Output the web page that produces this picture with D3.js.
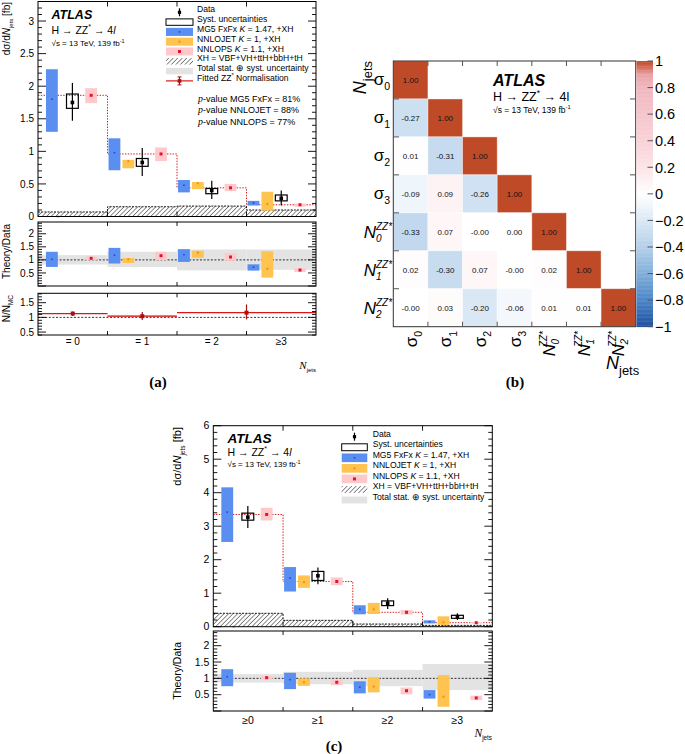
<!DOCTYPE html>
<html><head><meta charset="utf-8">
<script src="https://cdn.jsdelivr.net/npm/d3@7"></script>
<style>body{margin:0;background:#fff} svg{display:block;font-family:"Liberation Sans",Arial,sans-serif}</style>
</head><body><svg id="c" width="685" height="754"></svg>
<script>
// ================= DATA =================
const binsA = ["= 0", "= 1", "= 2", "≥3"];
const binsC = ["≥0", "≥1", "≥2", "≥3"];

// (a) main panel  [value, low, high]
const dataA      = [1.75, 0.83, 0.40, 0.28];
const dataA_err  = [[1.47, 2.05], [0.62, 1.05], [0.27, 0.55], [0.17, 0.40]];
const dataA_syst = [[1.66, 1.88], [0.77, 0.89], [0.35, 0.43], [0.24, 0.33]];
const mg5A       = [[1.80, 1.30, 2.26], [0.98, 0.71, 1.20], [0.48, 0.37, 0.56], [0.21, 0.17, 0.24]];
const nnlojetA   = [[0, 0, 0], [0.85, 0.74, 0.87], [0.51, 0.42, 0.53], [0.19, 0.09, 0.38]];
const nnlopsA    = [[1.86, 1.74, 1.97], [0.96, 0.85, 1.06], [0.44, 0.39, 0.50], [0.18, 0.15, 0.20]];
const xhA        = [0.07, 0.15, 0.16, 0.10];
// (a) Theory/Data
const mg5RA      = [[1.02, 0.73, 1.31], [1.18, 0.86, 1.46], [1.20, 0.92, 1.41], [0.72, 0.59, 0.83]];
const nnlojetRA  = [null, [1.02, 0.88, 1.07], [1.28, 1.08, 1.35], [0.66, 0.32, 1.33]];
const nnlopsRA   = [[1.06, 0.99, 1.13], [1.16, 0.99, 1.31], [1.11, 0.97, 1.26], [0.61, 0.54, 0.68]];
const totalRA    = [[0.82, 1.18], [0.73, 1.31], [0.60, 1.40], [0.62, 1.40]];
// (a) fitted ZZ* normalisation N/N_MC
const nFitBins   = [[0, 1], [1, 2], [2, 4]];
const nFit       = [1.13, 1.04, 1.16];
const nFitBand   = [[1.12, 1.145], [1.02, 1.06], [1.15, 1.17]];
const nFitErr    = [[1.05, 1.20], [0.91, 1.18], [0.93, 1.44]];
const pValues    = [["MG5 FxFx", "81%"], ["NNLOJET", "88%"], ["NNLOPS", "77%"]];

// (c) main panel
const dataC      = [3.27, 1.52, 0.70, 0.30];
const dataC_err  = [[2.95, 3.60], [1.27, 1.77], [0.53, 0.85], [0.20, 0.40]];
const dataC_syst = [[3.18, 3.39], [1.38, 1.65], [0.63, 0.77], [0.25, 0.34]];
const mg5C       = [[3.42, 2.53, 4.16], [1.45, 1.05, 1.78], [0.52, 0.37, 0.64], [0.15, 0.10, 0.19]];
const nnlojetC   = [[0, 0, 0], [1.33, 1.16, 1.53], [0.52, 0.38, 0.71], [0.13, 0.05, 0.31]];
const nnlopsC    = [[3.35, 3.17, 3.55], [1.35, 1.24, 1.47], [0.43, 0.36, 0.50], [0.12, 0.10, 0.14]];
const xhC        = [0.40, 0.19, 0.08, 0.04];
// (c) Theory/Data
const mg5RC      = [[1.05, 0.76, 1.28], [0.96, 0.67, 1.17], [0.73, 0.54, 0.91], [0.50, 0.38, 0.64]];
const nnlojetRC  = [null, [0.88, 0.77, 1.00], [0.75, 0.57, 1.03], [0.44, 0.13, 1.10]];
const nnlopsRC   = [[1.02, 0.97, 1.07], [0.88, 0.79, 0.96], [0.62, 0.51, 0.72], [0.40, 0.33, 0.47]];
const totalRC    = [[0.87, 1.13], [0.82, 1.20], [0.76, 1.26], [0.64, 1.44]];

// (b) correlation matrix (lower triangle, row by row)
const corrLabels = [["σ", "0"], ["σ", "1"], ["σ", "2"], ["σ", "3"], ["N", "0"], ["N", "1"], ["N", "2"]];
const corr = [
  [1.00],
  [-0.27, 1.00],
  [0.01, -0.31, 1.00],
  [-0.09, 0.09, -0.26, 1.00],
  [-0.33, 0.07, -0.001, 0.001, 1.00],
  [0.02, -0.30, 0.07, -0.001, 0.02, 1.00],
  [-0.001, 0.03, -0.20, -0.06, 0.01, 0.01, 1.00]
];
const cbarTicks = [-1, -0.8, -0.6, -0.4, -0.2, 0, 0.2, 0.4, 0.6, 0.8, 1];

// ================= STYLE / LAYOUT =================
const COL = {mg5: "#5a8ef0", mg5dot: "#1a3cf0", jet: "#ffc350", jetdot: "#f39200",
  ops: "#ffc9cc", opsdot: "#e8112d", gray: "#e3e3e3", red: "#d81818", dred: "#a81010"};
const OFF = {mg5: [0.2, 0.1, 0.1, 0.1], jet: [0.29, 0.3, 0.3, 0.3], data: [0.495, 0.5, 0.5, 0.5], ops: [0.765, 0.77, 0.77, 0.77]};
const BW = 0.17;
const cmapStops = [-1, -0.8, -0.6, -0.4, -0.2, 0, 0.2, 0.4, 0.6, 0.8, 0.9, 0.95, 1];
const cmapCols = ["#1f4f9e", "#4a85c6", "#80afdb", "#b5d0ea", "#dae8f5", "#ffffff", "#fbe4e7",
  "#f8d3d8", "#f5c5cc", "#f2b7bf", "#eba3a8", "#d8705f", "#bf4a28"];

const svg = d3.select("#c");
svg.append("rect").attr("width", 685).attr("height", 754).attr("fill", "#fff");
const defs = svg.append("defs");
const pat = defs.append("pattern").attr("id", "hatch").attr("patternUnits", "userSpaceOnUse")
  .attr("width", 3.2).attr("height", 3.2).attr("patternTransform", "rotate(45)");
pat.append("line").attr("x1", 0).attr("y1", 0).attr("x2", 0).attr("y2", 3.2)
  .attr("stroke", "#000").attr("stroke-width", 0.9);

// ---------- helpers ----------
function rich(sel, x, y, parts, size, anchor) {
  const t = sel.append("text").attr("x", x).attr("y", y).attr("font-size", size)
    .attr("text-anchor", anchor || "start").attr("fill", "#000");
  let cur = 0;
  parts.forEach(p => {
    if (typeof p === "string") p = {t: p};
    const shift = p.sup ? -0.42 * size : p.sub ? 0.32 * size : 0;
    const ts = t.append("tspan").text(p.t).attr("dy", shift - cur);
    cur = shift;
    if (p.sup || p.sub) ts.attr("font-size", (p.s || 0.68) * size);
    else if (p.s) ts.attr("font-size", p.s * size);
    if (p.i) ts.attr("font-style", "italic");
    if (p.f) ts.attr("font-family", p.f);
    if (p.w) ts.attr("font-weight", p.w);
  });
  return t;
}
function rotText(sel, x, y, parts, size, anchor) {
  const g = sel.append("g").attr("transform", `translate(${x},${y}) rotate(-90)`);
  return rich(g, 0, 0, parts, size, anchor);
}
function frame(g, x, y) {
  g.append("rect").attr("x", x.range()[0]).attr("y", y.range()[1])
    .attr("width", x.range()[1] - x.range()[0]).attr("height", y.range()[0] - y.range()[1])
    .attr("fill", "none").attr("stroke", "#000").attr("stroke-width", 1);
}
function yTicks(g, y, x, major, minor, fs, skipMin) {
  const [d0, d1] = y.domain();
  const [x0, x1] = x.range();
  for (let k = Math.ceil(d0 / minor - 1e-6); k * minor <= d1 + 1e-6; k++) {
    const v = +(k * minor).toFixed(6);
    const isMaj = Math.abs(v / major - Math.round(v / major)) < 1e-6;
    const L = isMaj ? 8 : 4, yy = y(v);
    g.append("line").attr("x1", x0).attr("x2", x0 + L).attr("y1", yy).attr("y2", yy).attr("stroke", "#000").attr("stroke-width", 0.9);
    g.append("line").attr("x1", x1).attr("x2", x1 - L).attr("y1", yy).attr("y2", yy).attr("stroke", "#000").attr("stroke-width", 0.9);
    if (isMaj && !(skipMin && Math.abs(v - d0) < 1e-6))
      g.append("text").attr("x", x0 - 4).attr("y", yy).attr("dy", "0.36em").attr("text-anchor", "end")
        .attr("font-size", fs).text(d3.format("~g")(v));
  }
}
function xTicks(g, x, y, L) {
  [1, 2, 3].forEach(b => {
    const xx = x(b);
    g.append("line").attr("x1", xx).attr("x2", xx).attr("y1", y.range()[1]).attr("y2", y.range()[1] + L).attr("stroke", "#000").attr("stroke-width", 0.9);
    g.append("line").attr("x1", xx).attr("x2", xx).attr("y1", y.range()[0]).attr("y2", y.range()[0] - L).attr("stroke", "#000").attr("stroke-width", 0.9);
  });
}
function models(g, x, y, arr, off, col, dotCol, ds) {
  const w = x(BW) - x(0);
  arr.forEach((d, i) => {
    if (!d) return;
    const cx = x(i + off[i]);
    g.append("rect").attr("x", cx - w / 2).attr("y", y(d[2])).attr("width", w)
      .attr("height", Math.max(0, y(d[1]) - y(d[2]))).attr("fill", col);
    g.append("rect").attr("x", cx - ds / 2).attr("y", y(d[0]) - ds / 2).attr("width", ds).attr("height", ds).attr("fill", dotCol);
  });
}
function grayBand(g, x, y, arr) {
  arr.forEach((d, i) => g.append("rect").attr("x", x(i)).attr("width", x(i + 1) - x(i))
    .attr("y", y(d[1])).attr("height", y(d[0]) - y(d[1])).attr("fill", COL.gray));
}
function unityLine(g, x, y) {
  g.append("line").attr("x1", x.range()[0]).attr("x2", x.range()[1]).attr("y1", y(1)).attr("y2", y(1))
    .attr("stroke", "#000").attr("stroke-width", 0.8).attr("stroke-dasharray", "2,1.6");
}
function stepPts(v) { return v.map((d, i) => [i, d]).concat([[v.length, v[v.length - 1]]]); }
function hatched(g, x, y, v) {
  const pts = stepPts(v);
  g.append("path").datum(pts).attr("fill", "url(#hatch)")
    .attr("d", d3.area().curve(d3.curveStepAfter).x(d => x(d[0])).y0(y(0)).y1(d => y(d[1])));
  g.append("path").datum(pts).attr("fill", "none").attr("stroke", "#000").attr("stroke-width", 0.9)
    .attr("stroke-dasharray", "2,1.2")
    .attr("d", d3.line().curve(d3.curveStepAfter).x(d => x(d[0])).y(d => y(d[1])));
}
function nnlopsStep(g, x, y, arr) {
  const pts = stepPts(arr.map(d => d[0]));
  g.append("path").datum(pts).attr("fill", "none").attr("stroke", COL.red).attr("stroke-width", 1)
    .attr("stroke-dasharray", "1.4,1.4")
    .attr("d", d3.line().curve(d3.curveStepAfter).x(d => x(d[0])).y(d => y(d[1])));
}
function dataPts(g, x, y, val, err, syst) {
  const w = x(BW) - x(0);
  val.forEach((v, i) => {
    const cx = x(i + OFF.data[i]);
    g.append("rect").attr("x", cx - w / 2).attr("y", y(syst[i][1])).attr("width", w)
      .attr("height", y(syst[i][0]) - y(syst[i][1])).attr("fill", "none").attr("stroke", "#000").attr("stroke-width", 1.2);
    g.append("line").attr("x1", cx).attr("x2", cx).attr("y1", y(err[i][0])).attr("y2", y(err[i][1]))
      .attr("stroke", "#000").attr("stroke-width", 1.2);
    g.append("rect").attr("x", cx - 1.8).attr("y", y(v) - 1.8).attr("width", 3.6).attr("height", 3.6).attr("fill", "#000");
  });
}
function legend(g, x0, x1, tx, y0, step, fs, items) {
  const xm = (x0 + x1) / 2, h = step * 0.82;
  items.forEach((it, k) => {
    const yc = y0 + k * step;
    if (it.type === "data") {
      g.append("line").attr("x1", xm).attr("x2", xm).attr("y1", yc - 4).attr("y2", yc + 4).attr("stroke", "#000").attr("stroke-width", 1.2);
      g.append("rect").attr("x", xm - 1.6).attr("y", yc - 1.6).attr("width", 3.2).attr("height", 3.2).attr("fill", "#000");
    } else if (it.type === "syst") {
      g.append("rect").attr("x", x0).attr("y", yc - h * 0.4).attr("width", x1 - x0).attr("height", h * 0.8)
        .attr("fill", "none").attr("stroke", "#000").attr("stroke-width", 1);
    } else if (it.type === "box") {
      g.append("rect").attr("x", x0).attr("y", yc - h / 2).attr("width", x1 - x0).attr("height", h).attr("fill", it.col);
      g.append("rect").attr("x", xm - it.ds / 2).attr("y", yc - it.ds / 2).attr("width", it.ds).attr("height", it.ds).attr("fill", it.dot);
    } else if (it.type === "hatch") {
      g.append("rect").attr("x", x0).attr("y", yc - h * 0.4).attr("width", x1 - x0).attr("height", h * 0.8).attr("fill", "url(#hatch)");
    } else if (it.type === "gray") {
      g.append("rect").attr("x", x0).attr("y", yc - h * 0.4).attr("width", x1 - x0).attr("height", h * 0.8).attr("fill", COL.gray);
    } else if (it.type === "fit") {
      g.append("line").attr("x1", x0).attr("x2", x1).attr("y1", yc).attr("y2", yc).attr("stroke", COL.red).attr("stroke-width", 1.2);
      g.append("line").attr("x1", xm).attr("x2", xm).attr("y1", yc - 4).attr("y2", yc + 4).attr("stroke", COL.dred).attr("stroke-width", 1.2);
      [-4, 4].forEach(d => g.append("line").attr("x1", xm - 2).attr("x2", xm + 2).attr("y1", yc + d).attr("y2", yc + d).attr("stroke", COL.dred).attr("stroke-width", 1));
      g.append("rect").attr("x", xm - 1.8).attr("y", yc - 1.8).attr("width", 3.6).attr("height", 3.6).attr("fill", COL.dred);
    }
    rich(g, tx, yc, it.text, fs).attr("dy", "0.36em");
  });
}
function atlasLabel(g, x, y, sizes, gaps, italicL) {
  g.append("text").attr("x", x).attr("y", y).attr("font-size", sizes[0]).attr("font-weight", "bold")
    .attr("font-style", "italic").text("ATLAS");
  rich(g, x, y + gaps[0], ["H → ZZ", {t: "*", sup: true}, " → 4", {t: "l", i: italicL}], sizes[1]);
  rich(g, x, y + gaps[0] + gaps[1], ["√s = 13 TeV, 139 fb", {t: "-1", sup: true}], sizes[2]);
}
const legendItems = [
  {type: "data", text: ["Data"]},
  {type: "syst", text: ["Syst. uncertainties"]},
  {type: "box", col: COL.mg5, dot: COL.mg5dot, ds: 1.5, text: ["MG5 FxFx ", {t: "K", i: true}, " = 1.47, +XH"]},
  {type: "box", col: COL.jet, dot: COL.jetdot, ds: 2, text: ["NNLOJET ", {t: "K", i: true}, " = 1, +XH"]},
  {type: "box", col: COL.ops, dot: COL.opsdot, ds: 3, text: ["NNLOPS ", {t: "K", i: true}, " = 1.1, +XH"]},
  {type: "hatch", text: ["XH = VBF+VH+ttH+bbH+tH"]},
  {type: "gray", text: ["Total stat. ⊕ syst. uncertainty"]}
];

// ================= PANEL (a) =================
const gA = svg.append("g");
const xA = d3.scaleLinear().domain([0, 4]).range([38, 316]);
const yA = d3.scaleLinear().domain([0, 3.3]).range([216.5, 1.5]);
const rA = d3.scaleLinear().domain([0, 2.45]).range([286, 222]);
const nA = d3.scaleLinear().domain([0.4, 1.82]).range([335, 293.3]);

hatched(gA, xA, yA, xhA);
nnlopsStep(gA, xA, yA, nnlopsA);
models(gA, xA, yA, mg5A, OFF.mg5, COL.mg5, COL.mg5dot, 1.5);
models(gA, xA, yA, nnlojetA, OFF.jet, COL.jet, COL.jetdot, 2);
models(gA, xA, yA, nnlopsA, OFF.ops, COL.ops, COL.opsdot, 3);
dataPts(gA, xA, yA, dataA, dataA_err, dataA_syst);
frame(gA, xA, yA); yTicks(gA, yA, xA, 0.5, 0.1, 10, false); xTicks(gA, xA, yA, 5);

grayBand(gA, xA, rA, totalRA);
unityLine(gA, xA, rA);
models(gA, xA, rA, mg5RA, OFF.mg5, COL.mg5, COL.mg5dot, 1.5);
models(gA, xA, rA, nnlojetRA, OFF.jet, COL.jet, COL.jetdot, 2);
models(gA, xA, rA, nnlopsRA, OFF.ops, COL.ops, COL.opsdot, 3);
frame(gA, xA, rA); yTicks(gA, rA, xA, 0.5, 0.1, 10, true); xTicks(gA, xA, rA, 4);

unityLine(gA, xA, nA);
nFitBins.forEach((b, i) => {
  gA.append("rect").attr("x", xA(b[0])).attr("width", xA(b[1]) - xA(b[0])).attr("y", nA(nFitBand[i][1]))
    .attr("height", nA(nFitBand[i][0]) - nA(nFitBand[i][1])).attr("fill", "#e88a8a").attr("opacity", 0.7);
  gA.append("line").attr("x1", xA(b[0])).attr("x2", xA(b[1])).attr("y1", nA(nFit[i])).attr("y2", nA(nFit[i]))
    .attr("stroke", COL.red).attr("stroke-width", 1.2);
  const cx = xA((b[0] + b[1]) / 2);
  gA.append("line").attr("x1", cx).attr("x2", cx).attr("y1", nA(nFitErr[i][0])).attr("y2", nA(nFitErr[i][1]))
    .attr("stroke", COL.dred).attr("stroke-width", 1.2);
  gA.append("rect").attr("x", cx - 2).attr("y", nA(nFit[i]) - 2).attr("width", 4).attr("height", 4).attr("fill", COL.dred);
});
frame(gA, xA, nA); yTicks(gA, nA, xA, 0.5, 0.1, 10, true); xTicks(gA, xA, nA, 4);

binsA.forEach((b, i) => gA.append("text").attr("x", xA(i + 0.5)).attr("y", 345).attr("text-anchor", "middle").attr("font-size", 10).text(b));
rich(gA, 316, 369, [{t: "N", i: true, f: "Liberation Serif", s: 1.1}, {t: "jets", sub: true, s: 0.6}], 10, "end");
gA.append("text").attr("x", 158).attr("y", 387).attr("text-anchor", "middle").attr("font-family", "Liberation Serif")
  .attr("font-weight", "bold").attr("font-size", 15).text("(a)");
rotText(gA, 10, 2, ["dσ/d", {t: "N", i: true}, {t: "jets", sub: true, s: 0.6}, " [fb]"], 10, "end");
rotText(gA, 10, 224, ["Theory/Data"], 10, "end");
rotText(gA, 10, 295, ["N/N", {t: "MC", sub: true, s: 0.65}], 10, "end");

atlasLabel(gA, 51.5, 18.5, [12.5, 10.5, 8], [15, 12.5], true);
legend(gA, 166, 193, 197, 12.3, 9.8, 8.6, legendItems.concat([{type: "fit", text: ["Fitted ZZ", {t: "*", sup: true}, " Normalisation"]}]));
pValues.forEach((p, k) => rich(gA, 198, 102 + k * 11.3, [{t: "p", i: true, f: "Liberation Serif", s: 1.1}, "-value " + p[0] + " = " + p[1]], 9));

// ================= PANEL (b) =================
const gB = svg.append("g");
const xB = d3.scaleBand().domain(d3.range(7)).range([393.3, 635.7]);
const yB = d3.scaleBand().domain(d3.range(7)).range([61, 326.7]);
const cmap = d3.scaleLinear().domain(cmapStops).range(cmapCols).interpolate(d3.interpolateRgb).clamp(true);
corr.forEach((row, r) => row.forEach((v, c) => {
  gB.append("rect").attr("x", xB(c)).attr("y", yB(r)).attr("width", xB.bandwidth()).attr("height", yB.bandwidth())
    .attr("fill", cmap(v)).attr("stroke", "#fff").attr("stroke-opacity", 0.5).attr("stroke-width", 0.8);
  gB.append("text").attr("x", xB(c) + xB.bandwidth() / 2).attr("y", yB(r) + yB.bandwidth() / 2).attr("dy", "0.36em")
    .attr("text-anchor", "middle").attr("font-size", 8).attr("fill", "#111").text(v.toFixed(2));
}));
gB.append("rect").attr("x", 393.3).attr("y", 61).attr("width", 635.7 - 393.3).attr("height", 326.7 - 61)
  .attr("fill", "none").attr("stroke", "#333").attr("stroke-width", 1);
d3.range(1, 7).forEach(k => {
  const xx = xB(k), yy = yB(k);
  [[xx, 61, xx, 66], [xx, 326.7, xx, 321.7]].forEach(l => gB.append("line").attr("x1", l[0]).attr("y1", l[1]).attr("x2", l[2]).attr("y2", l[3]).attr("stroke", "#555"));
  [[393.3, yy, 399, yy], [635.7, yy, 630, yy]].forEach(l => gB.append("line").attr("x1", l[0]).attr("y1", l[1]).attr("x2", l[2]).attr("y2", l[3]).attr("stroke", "#555"));
});
// row labels
corrLabels.forEach((lab, r) => {
  const yc = yB(r) + yB.bandwidth() / 2;
  if (lab[0] === "σ") {
    rich(gB, 390, yc + 5, ["σ", {t: lab[1], sub: true, s: 0.62}], 17, "end");
  } else {
    gB.append("text").attr("x", 376).attr("y", yc + 6).attr("text-anchor", "end").attr("font-size", 17).attr("font-style", "italic").text("N");
    gB.append("text").attr("x", 376).attr("y", yc - 2).attr("font-size", 10).attr("font-style", "italic").text("ZZ*");
    gB.append("text").attr("x", 376).attr("y", yc + 10).attr("font-size", 10).attr("font-style", "italic").text(lab[1]);
  }
});
// column labels (vertical)
corrLabels.forEach((lab, c) => {
  const xc = xB(c) + xB.bandwidth() / 2;
  const g = gB.append("g").attr("transform", `translate(${xc},331) rotate(-90)`);
  if (lab[0] === "σ") {
    rich(g, 0, 6, ["σ", {t: lab[1], sub: true, s: 0.62}], 17, "end");
  } else {
    g.append("text").attr("x", -13).attr("y", 6).attr("text-anchor", "end").attr("font-size", 17).attr("font-style", "italic").text("N");
    g.append("text").attr("x", 0).attr("y", -2).attr("text-anchor", "end").attr("font-size", 10).attr("font-style", "italic").text("ZZ*");
    g.append("text").attr("x", -8).attr("y", 10).attr("text-anchor", "end").attr("font-size", 10).attr("font-style", "italic").text(lab[1]);
  }
});
rotText(gB, 366, 61, [{t: "N", i: true}, {t: "jets", sub: true, s: 0.72}], 18, "end");
rich(gB, 606, 369, [{t: "N", i: true}, {t: "jets", sub: true, s: 0.72}], 18);
gB.append("text").attr("x", 515).attr("y", 387).attr("text-anchor", "middle").attr("font-family", "Liberation Serif")
  .attr("font-weight", "bold").attr("font-size", 15).text("(b)");
atlasLabel(gB, 493, 86, [16, 12.5, 8.5], [15, 12], false);
// colour bar
const cb = d3.scaleLinear().domain([-1, 1]).range([326.7, 61]);
const nSteps = 200;
d3.range(nSteps).forEach(k => {
  const v0 = -1 + 2 * k / nSteps, v1 = -1 + 2 * (k + 1) / nSteps;
  gB.append("rect").attr("x", 636.5).attr("width", 16.5).attr("y", cb(v1)).attr("height", cb(v0) - cb(v1) + 0.4)
    .attr("fill", cmap((v0 + v1) / 2));
});
cbarTicks.forEach(v => {
  gB.append("line").attr("x1", 647.5).attr("x2", 653).attr("y1", cb(v)).attr("y2", cb(v)).attr("stroke", "#555");
  gB.append("text").attr("x", 655).attr("y", cb(v)).attr("dy", "0.36em").attr("font-size", 14.5)
    .text(d3.format("~g")(v).replace("-", "−"));
});

// ================= PANEL (c) =================
const gC = svg.append("g");
const xC = d3.scaleLinear().domain([0, 4]).range([213.3, 492.3]);
const yC = d3.scaleLinear().domain([0, 6]).range([626.7, 425.7]);
const rC = d3.scaleLinear().domain([0, 2.45]).range([711, 631]);

hatched(gC, xC, yC, xhC);
nnlopsStep(gC, xC, yC, nnlopsC);
models(gC, xC, yC, mg5C, OFF.mg5, COL.mg5, COL.mg5dot, 1.5);
models(gC, xC, yC, nnlojetC, OFF.jet, COL.jet, COL.jetdot, 2);
models(gC, xC, yC, nnlopsC, OFF.ops, COL.ops, COL.opsdot, 3);
dataPts(gC, xC, yC, dataC, dataC_err, dataC_syst);
frame(gC, xC, yC); yTicks(gC, yC, xC, 1, 0.2, 10.5, false); xTicks(gC, xC, yC, 5);

grayBand(gC, xC, rC, totalRC);
unityLine(gC, xC, rC);
models(gC, xC, rC, mg5RC, OFF.mg5, COL.mg5, COL.mg5dot, 1.5);
models(gC, xC, rC, nnlojetRC, OFF.jet, COL.jet, COL.jetdot, 2);
models(gC, xC, rC, nnlopsRC, OFF.ops, COL.ops, COL.opsdot, 3);
frame(gC, xC, rC); yTicks(gC, rC, xC, 0.5, 0.1, 10.5, true); xTicks(gC, xC, rC, 4);

binsC.forEach((b, i) => gC.append("text").attr("x", xC(i + 0.5)).attr("y", 724).attr("text-anchor", "middle").attr("font-size", 10.5).text(b));
rich(gC, 492, 737, [{t: "N", i: true, f: "Liberation Serif", s: 1.1}, {t: "jets", sub: true, s: 0.6}], 10.5, "end");
gC.append("text").attr("x", 334).attr("y", 751).attr("text-anchor", "middle").attr("font-family", "Liberation Serif")
  .attr("font-weight", "bold").attr("font-size", 15).text("(c)");
rotText(gC, 181, 427, ["dσ/d", {t: "N", i: true}, {t: "jets", sub: true, s: 0.6}, " [fb]"], 11, "end");
rotText(gC, 181, 642, ["Theory/Data"], 10.5, "end");
atlasLabel(gC, 227.5, 442.5, [13.5, 10.5, 8], [13, 11.5], true);
legend(gC, 341.7, 367.3, 372.7, 436.7, 10.55, 8.6, legendItems);
</script></body></html>
